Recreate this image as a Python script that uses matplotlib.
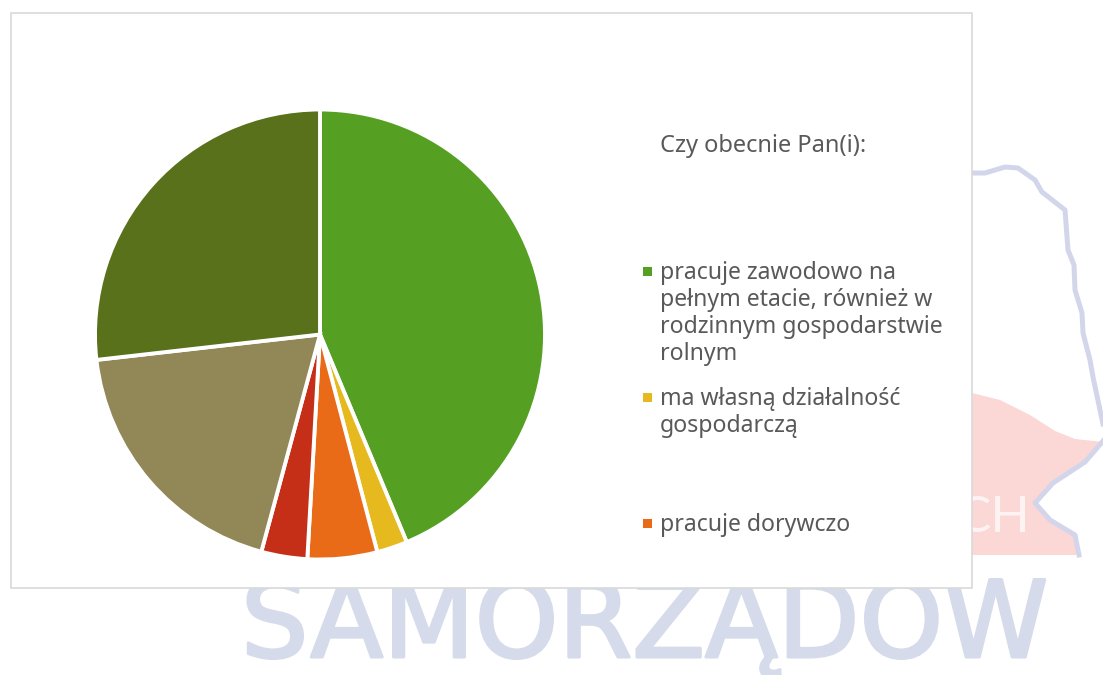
import matplotlib
matplotlib.use("Agg")
import matplotlib.pyplot as plt
from matplotlib.patches import Polygon, Rectangle
import matplotlib.patheffects as pe

W, H = 1103, 675
FONT = "Noto Sans"

values = [43.7, 2.2, 5.0, 3.3, 19.0, 26.8]
colors = ["#55A022", "#E6B91E", "#E96A17", "#C52F17", "#928756", "#58711A"]
legend_title = "Czy obecnie Pan(i):"
legend_labels = [
    "pracuje zawodowo na\npełnym etacie, również w\nrodzinnym gospodarstwie\nrolnym",
    "ma własną działalność\ngospodarczą",
    "pracuje dorywczo",
]
legend_colors = colors[:3]
legend_y = [271, 397, 523]

fig = plt.figure(figsize=(W / 100, H / 100), dpi=100, facecolor="white")
bg = fig.add_axes([0, 0, 1, 1])
bg.set_xlim(0, W)
bg.set_ylim(H, 0)
bg.axis("off")

# watermark behind the panel
red = [(960, 390), (972, 393), (1000, 400), (1030, 415), (1055, 431), (1075, 439), (1103, 442),
       (1085, 462), (1053, 483), (1035, 503), (1050, 520), (1075, 535), (1079, 555), (960, 555)]
bg.add_patch(Polygon(red, closed=True, fc="#FBD7D6", ec="none", zorder=1))
outline1 = [(960, 172), (972, 173), (985, 173), (1005, 167), (1018, 168), (1035, 180), (1042, 192),
            (1065, 210), (1068, 250), (1074, 265), (1075, 290), (1082, 313), (1083, 333), (1090, 360),
            (1093, 377), (1100, 410), (1103, 424)]
outline2 = [(1103, 441), (1085, 462), (1053, 483), (1035, 503), (1050, 520), (1075, 535), (1079, 555)]
for pts in (outline1, outline2):
    bg.plot(*zip(*pts), color="#D3D6EA", lw=3.6, zorder=2, solid_joinstyle="round")
bg.text(1030, 518, "CH", color="#FDF3F2", fontsize=37, family="Lato", ha="right", va="center", zorder=3)
bg.text(241, 657, "SAMORZĄDÓW", color="#D5DBEA", fontsize=76.5, family="DejaVu Sans",
        ha="left", va="baseline", zorder=3,
        path_effects=[pe.withStroke(linewidth=2.2, foreground="#D5DBEA")])

# chart panel
bg.add_patch(Rectangle((11, 13), 961, 575, fc="white", ec="#D9D9D9", lw=1.2, zorder=4))

# pie
ax = fig.add_axes([(320 - 225) / W, 1 - (334.5 + 225) / H, 450 / W, 450 / H], zorder=2)
ax.pie(values, colors=colors, startangle=90, counterclock=False, radius=1,
       wedgeprops=dict(edgecolor="white", linewidth=2.8))
ax.set_xlim(-1, 1)
ax.set_ylim(-1, 1)
ax.patch.set_alpha(0)

# legend
top = fig.add_axes([0, 0, 1, 1], zorder=3)
top.set_xlim(0, W)
top.set_ylim(H, 0)
top.axis("off")
top.patch.set_alpha(0)
top.text(660, 146, legend_title, fontsize=17, color="#595959", family=FONT, va="center")
for lab, c, y in zip(legend_labels, legend_colors, legend_y):
    top.add_patch(Rectangle((643, y - 4.5), 9, 9, fc=c, ec="none"))
    top.text(660, y - 10, lab, fontsize=16.6, color="#595959", family=FONT, va="top", linespacing=1.17)

fig.savefig("out.png", dpi=100, facecolor="white")
